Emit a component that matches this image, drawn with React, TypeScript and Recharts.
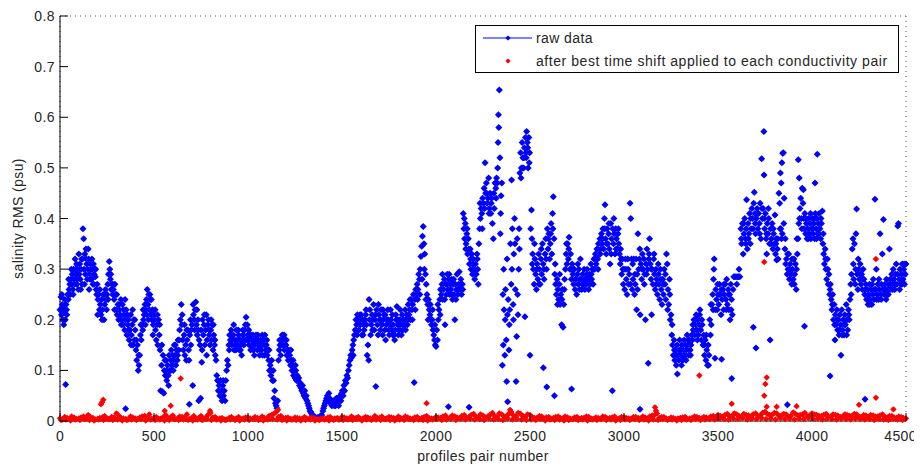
import React from 'react';
import { ScatterChart, Scatter, XAxis, YAxis, CartesianGrid } from 'recharts';

type Pt = [number, number];

const xTicks = [0, 500, 1000, 1500, 2000, 2500, 3000, 3500, 4000, 4500];
const yTicks = [0, 0.1, 0.2, 0.3, 0.4, 0.5, 0.6, 0.7, 0.8];
const seriesNames = ['raw data', 'after best time shift applied to each conductivity pair'];
const xAxisTitle = 'profiles pair number';
const yAxisTitle = 'salinity RMS (psu)';

// raw data, profile pairs 0-500
const raw0: Pt[] = [
  [0,0.22],[5,0.245],[8,0.21],[12,0.23],[15,0.2],[18,0.225],[22,0.215],[25,0.24],[28,0.2],[30,0.072],[32,0.23],[36,0.21],[40,0.25],[44,0.24],[48,0.26],[52,0.27],[55,0.25],[58,0.28],[62,0.27],[65,0.29],[68,0.26],[72,0.3],[75,0.28],[78,0.27],[82,0.3],[85,0.29],[88,0.31],[92,0.28],[95,0.3],[98,0.26],[102,0.29],[105,0.31],[108,0.28],[112,0.3],[115,0.32],[118,0.27],[122,0.38],[126,0.36],[128,0.3],[132,0.33],[135,0.29],[138,0.34],[142,0.31],[145,0.28],[148,0.3],[152,0.32],[155,0.26],[158,0.29],[162,0.31],[165,0.3],[168,0.28],[172,0.3],[175,0.27],[178,0.31],[182,0.29],[185,0.3],[188,0.285],[192,0.26],[195,0.25],[198,0.27],[202,0.24],[206,0.25],[210,0.22],[214,0.23],[218,0.21],[222,0.24],[226,0.22],[230,0.25],[234,0.2],[238,0.23],[242,0.26],[246,0.24],[250,0.25],[254,0.27],[258,0.29],[262,0.315],[265,0.3],[268,0.28],[272,0.26],[276,0.27],[280,0.25],[284,0.26],[288,0.24],[292,0.27],[296,0.25],[300,0.22],[304,0.21],[308,0.23],[312,0.2],[316,0.22],[320,0.21],[324,0.24],[328,0.2],[332,0.23],[336,0.19],[340,0.21],[344,0.18],[348,0.2],[349,0.024],[352,0.22],[356,0.17],[360,0.19],[364,0.2],[368,0.16],[372,0.18],[376,0.21],[380,0.17],[384,0.19],[388,0.15],[392,0.2],[396,0.16],[400,0.18],[404,0.14],[408,0.12],[412,0.15],[416,0.1],[420,0.11],[424,0.13],[428,0.17],[432,0.16],[436,0.19],[440,0.18],[444,0.2],[448,0.21],[452,0.23],[456,0.22],[460,0.24],[464,0.26],[468,0.23],[472,0.25],[476,0.22],[480,0.24],[484,0.21],[488,0.2],[492,0.22],[496,0.19],[500,0.21],
  [10,0.25],[20,0.19],[35,0.22],[46,0.28],[60,0.3],[70,0.25],[80,0.32],[90,0.27],[100,0.33],[110,0.26],[120,0.32],[130,0.27],[140,0.32],[150,0.34],[160,0.28],[170,0.32],[180,0.27],[190,0.3],[200,0.21],[212,0.26],[224,0.2],[236,0.25],[248,0.22],[256,0.24],[270,0.29],[282,0.27],[290,0.22],[302,0.25],[314,0.23],[326,0.19],[338,0.22],[346,0.24],[358,0.21],[366,0.18],[378,0.15],[386,0.22],[398,0.2],[406,0.16],[418,0.13],[430,0.19],[442,0.22],[454,0.19],[462,0.21],[470,0.2],[478,0.25],[486,0.24],[494,0.17]
];

// raw data, 500-1000
const raw500: Pt[] = [
  [504,0.2],[508,0.18],[512,0.16],[516,0.19],[520,0.15],[524,0.2],[528,0.17],[532,0.14],[535,0.06],[540,0.11],[545,0.058],[548,0.13],[552,0.055],[555,0.1],[560,0.09],[564,0.12],[568,0.08],[572,0.11],[576,0.09],[580,0.13],[584,0.1],[588,0.12],[592,0.14],[596,0.11],[600,0.13],[604,0.12],[608,0.15],[612,0.13],[616,0.11],[620,0.14],[624,0.12],[628,0.16],[632,0.14],[636,0.18],[640,0.2],[645,0.23],[648,0.19],[652,0.16],[656,0.14],[660,0.17],[664,0.13],[668,0.15],[672,0.12],[676,0.16],[680,0.18],[684,0.14],[688,0.033],[690,0.17],[694,0.2],[698,0.18],[702,0.19],[706,0.07],[710,0.21],[714,0.2],[718,0.22],[722,0.235],[726,0.19],[730,0.17],[734,0.2],[738,0.04],[740,0.16],[745,0.15],[748,0.045],[750,0.18],[754,0.116],[758,0.2],[762,0.17],[766,0.19],[770,0.15],[774,0.18],[778,0.21],[782,0.16],[786,0.19],[790,0.2],[794,0.17],[798,0.15],[802,0.18],[806,0.16],[810,0.19],[814,0.14],[818,0.17],[822,0.15],[826,0.13],[830,0.12],[834,0.09],[838,0.08],[842,0.06],[846,0.07],[850,0.05],[854,0.08],[858,0.06],[862,0.04],[866,0.07],[870,0.05],[874,0.06],[878,0.04],[882,0.08],[886,0.1],[890,0.12],[894,0.11],[898,0.15],[902,0.17],[906,0.16],[910,0.18],[914,0.15],[918,0.16],[922,0.17],[926,0.14],[930,0.16],[934,0.15],[938,0.18],[942,0.16],[946,0.15],[950,0.17],[954,0.14],[958,0.16],[962,0.15],[966,0.13],[970,0.16],[974,0.17],[978,0.15],[982,0.18],[986,0.19],[990,0.205],[994,0.16],[998,0.17],
  [506,0.22],[518,0.21],[530,0.19],[542,0.15],[558,0.12],[566,0.1],[578,0.07],[590,0.1],[602,0.1],[614,0.15],[626,0.13],[634,0.16],[650,0.21],[662,0.19],[674,0.18],[686,0.12],[696,0.15],[708,0.23],[716,0.18],[728,0.22],[736,0.18],[756,0.14],[768,0.21],[780,0.13],[792,0.18],[804,0.2],[816,0.19],[824,0.16],[840,0.08],[856,0.05],[868,0.08],[900,0.14],[912,0.17],[924,0.19],[936,0.14],[948,0.18],[960,0.14],[972,0.18],[984,0.16],[996,0.19]
];

// raw data, 1000-1500
const raw1000: Pt[] = [
  [1002,0.16],[1006,0.15],[1010,0.17],[1014,0.14],[1018,0.16],[1022,0.15],[1026,0.17],[1030,0.16],[1034,0.13],[1038,0.15],[1042,0.17],[1046,0.16],[1050,0.14],[1054,0.16],[1058,0.15],[1062,0.13],[1066,0.16],[1070,0.14],[1074,0.15],[1078,0.13],[1082,0.16],[1086,0.15],[1090,0.17],[1094,0.14],[1098,0.15],[1102,0.13],[1106,0.14],[1110,0.12],[1114,0.1],[1118,0.11],[1122,0.09],[1126,0.12],[1130,0.08],[1134,0.1],[1138,0.045],[1142,0.06],[1146,0.035],[1150,0.03],[1154,0.025],[1158,0.04],[1162,0.12],[1166,0.14],[1170,0.15],[1174,0.13],[1178,0.16],[1182,0.17],[1186,0.15],[1190,0.165],[1194,0.14],[1198,0.16],[1202,0.15],[1206,0.13],[1210,0.14],[1214,0.12],[1218,0.14],[1222,0.13],[1226,0.11],[1230,0.12],[1234,0.1],[1238,0.11],[1242,0.09],[1246,0.1],[1250,0.085],[1254,0.1],[1258,0.08],[1262,0.09],[1266,0.08],[1270,0.085],[1274,0.07],[1278,0.075],[1282,0.065],[1286,0.06],[1290,0.07],[1294,0.055],[1298,0.05],[1302,0.06],[1306,0.045],[1310,0.05],[1314,0.04],[1318,0.035],[1322,0.03],[1326,0.025],[1330,0.02],[1334,0.018],[1338,0.015],[1342,0.012],[1346,0.01],[1350,0.008],[1356,0.008],[1362,0.005],[1368,0.007],[1374,0.006],[1380,0.008],[1386,0.01],[1392,0.012],[1398,0.02],[1402,0.025],[1406,0.03],[1410,0.035],[1414,0.04],[1418,0.045],[1422,0.05],[1426,0.04],[1430,0.055],[1434,0.045],[1438,0.035],[1442,0.04],[1446,0.03],[1450,0.035],[1454,0.04],[1458,0.03],[1462,0.038],[1466,0.03],[1470,0.045],[1474,0.035],[1478,0.04],[1482,0.03],[1486,0.045],[1490,0.05],[1494,0.04],[1498,0.055],
  [1004,0.18],[1016,0.17],[1028,0.14],[1040,0.16],[1052,0.17],[1064,0.15],[1076,0.17],[1088,0.13],[1100,0.16],[1112,0.14],[1124,0.1],[1136,0.08],[1168,0.16],[1180,0.15],[1192,0.17],[1204,0.16],[1216,0.13],[1228,0.14],[1240,0.12],[1252,0.11]
];

// raw data, 1500-2000
const raw1500: Pt[] = [
  [1502,0.06],[1506,0.05],[1510,0.07],[1514,0.06],[1518,0.08],[1522,0.075],[1526,0.09],[1530,0.085],[1534,0.1],[1538,0.11],[1542,0.12],[1546,0.13],[1550,0.125],[1554,0.14],[1558,0.15],[1562,0.16],[1566,0.17],[1570,0.18],[1574,0.2],[1578,0.19],[1582,0.21],[1586,0.2],[1590,0.18],[1594,0.2],[1598,0.19],[1602,0.21],[1606,0.17],[1610,0.2],[1614,0.19],[1618,0.18],[1622,0.2],[1626,0.21],[1630,0.19],[1634,0.13],[1638,0.15],[1642,0.12],[1644,0.24],[1648,0.22],[1652,0.17],[1656,0.19],[1660,0.21],[1664,0.2],[1668,0.23],[1672,0.18],[1676,0.2],[1680,0.068],[1684,0.22],[1688,0.19],[1692,0.17],[1696,0.21],[1700,0.2],[1704,0.18],[1708,0.22],[1712,0.19],[1716,0.17],[1720,0.2],[1724,0.21],[1728,0.18],[1732,0.16],[1736,0.19],[1740,0.2],[1744,0.22],[1748,0.18],[1752,0.17],[1756,0.19],[1760,0.2],[1764,0.18],[1768,0.21],[1772,0.19],[1776,0.17],[1780,0.16],[1784,0.18],[1788,0.2],[1792,0.226],[1796,0.19],[1800,0.17],[1804,0.18],[1808,0.2],[1812,0.19],[1816,0.17],[1820,0.21],[1824,0.18],[1828,0.2],[1832,0.19],[1836,0.22],[1840,0.2],[1844,0.21],[1848,0.19],[1852,0.23],[1856,0.21],[1860,0.22],[1864,0.2],[1868,0.24],[1872,0.22],[1876,0.23],[1880,0.25],[1884,0.076],[1888,0.24],[1892,0.26],[1896,0.25],[1900,0.27],[1904,0.26],[1908,0.29],[1912,0.28],[1916,0.3],[1920,0.325],[1924,0.345],[1928,0.365],[1932,0.384],[1936,0.35],[1940,0.33],[1944,0.29],[1948,0.27],[1952,0.25],[1956,0.23],[1960,0.24],[1964,0.22],[1968,0.21],[1972,0.2],[1976,0.19],[1980,0.2],[1984,0.18],[1988,0.17],[1992,0.16],[1996,0.15],[2000,0.147],
  [1560,0.13],[1580,0.17],[1596,0.21],[1612,0.17],[1628,0.22],[1646,0.2],[1662,0.18],[1678,0.21],[1694,0.23],[1706,0.2],[1718,0.22],[1730,0.21],[1746,0.2],[1758,0.22],[1770,0.17],[1786,0.21],[1798,0.2],[1810,0.22],[1822,0.19],[1838,0.18],[1850,0.2],[1862,0.24],[1874,0.2],[1890,0.22],[1902,0.24],[1914,0.25],[1926,0.28],[1938,0.3],[1946,0.24],[1958,0.2],[1970,0.23],[1982,0.22],[1994,0.19]
];

// raw data, 2000-2500
const raw2000: Pt[] = [
  [2004,0.18],[2008,0.16],[2012,0.2],[2016,0.22],[2020,0.24],[2024,0.26],[2028,0.25],[2032,0.27],[2036,0.24],[2040,0.26],[2044,0.28],[2048,0.19],[2052,0.27],[2056,0.25],[2060,0.29],[2064,0.26],[2066,0.028],[2068,0.28],[2072,0.25],[2076,0.27],[2080,0.26],[2084,0.28],[2088,0.24],[2092,0.27],[2096,0.25],[2100,0.2],[2104,0.27],[2108,0.26],[2112,0.29],[2116,0.25],[2120,0.27],[2124,0.295],[2128,0.26],[2132,0.28],[2136,0.25],[2140,0.27],[2145,0.41],[2148,0.38],[2152,0.36],[2156,0.39],[2160,0.35],[2164,0.37],[2168,0.33],[2172,0.36],[2176,0.027],[2178,0.31],[2182,0.34],[2186,0.3],[2190,0.33],[2194,0.29],[2198,0.32],[2202,0.3],[2206,0.28],[2210,0.31],[2214,0.29],[2218,0.33],[2222,0.3],[2225,0.27],[2228,0.35],[2232,0.38],[2236,0.4],[2240,0.42],[2244,0.41],[2248,0.44],[2252,0.43],[2256,0.46],[2261,0.51],[2264,0.45],[2268,0.47],[2272,0.43],[2276,0.44],[2280,0.48],[2284,0.42],[2288,0.45],[2292,0.41],[2296,0.44],[2300,0.39],[2305,0.36],[2310,0.42],[2314,0.47],[2318,0.46],[2322,0.48],[2326,0.47],[2330,0.55],[2332,0.605],[2334,0.58],[2337,0.654],[2340,0.52],[2342,0.37],[2346,0.445],[2350,0.47],[2353,0.11],[2356,0.25],[2358,0.15],[2362,0.22],[2366,0.13],[2370,0.26],[2374,0.16],[2376,0.078],[2380,0.21],[2381,0.038],[2384,0.24],[2388,0.14],[2392,0.22],[2396,0.35],[2400,0.27],[2402,0.476],[2406,0.38],[2410,0.23],[2414,0.33],[2418,0.4],[2422,0.26],[2426,0.078],[2429,0.167],[2432,0.36],[2436,0.21],[2440,0.3],[2444,0.34],[2446,0.49],[2450,0.53],[2454,0.5],[2458,0.55],[2462,0.52],[2466,0.5],[2470,0.54],[2473,0.206],[2476,0.56],[2480,0.52],[2482,0.572],[2486,0.55],[2490,0.5],[2494,0.56],[2498,0.53],[2500,0.13],
  [2010,0.23],[2022,0.21],[2034,0.29],[2046,0.24],[2058,0.27],[2070,0.29],[2082,0.25],[2094,0.28],[2106,0.24],[2118,0.26],[2130,0.27],[2142,0.26],[2150,0.4],[2158,0.34],[2166,0.38],[2174,0.34],[2184,0.32],[2196,0.31],[2208,0.3],[2220,0.32],[2234,0.43],[2246,0.38],[2258,0.42],[2270,0.45],[2282,0.41],[2294,0.43],[2308,0.45],[2320,0.44],[2328,0.5],[2344,0.41],[2360,0.3],[2368,0.2],[2378,0.32],[2390,0.19],[2404,0.3],[2412,0.2],[2420,0.35],[2434,0.25],[2442,0.38],[2452,0.48],[2460,0.5],[2468,0.52],[2478,0.53],[2488,0.54],[2496,0.51]
];

// raw data, 2500-3000
const raw2500: Pt[] = [
  [2504,0.38],[2508,0.417],[2510,0.36],[2514,0.33],[2518,0.3],[2522,0.27],[2526,0.32],[2530,0.29],[2534,0.26],[2538,0.31],[2542,0.28],[2546,0.33],[2550,0.3],[2554,0.27],[2558,0.32],[2562,0.29],[2566,0.35],[2570,0.31],[2571,0.105],[2575,0.28],[2580,0.33],[2584,0.36],[2588,0.3],[2589,0.067],[2592,0.38],[2596,0.34],[2600,0.37],[2604,0.32],[2608,0.35],[2612,0.39],[2616,0.33],[2620,0.41],[2624,0.443],[2628,0.36],[2630,0.05],[2632,0.29],[2636,0.27],[2640,0.25],[2644,0.28],[2648,0.26],[2652,0.24],[2656,0.27],[2660,0.23],[2664,0.25],[2668,0.19],[2672,0.26],[2676,0.185],[2680,0.23],[2684,0.28],[2688,0.3],[2692,0.33],[2696,0.31],[2700,0.35],[2704,0.32],[2708,0.363],[2712,0.3],[2716,0.33],[2720,0.28],[2721,0.063],[2724,0.31],[2728,0.29],[2732,0.27],[2736,0.3],[2740,0.26],[2744,0.28],[2748,0.25],[2752,0.29],[2756,0.27],[2760,0.3],[2764,0.26],[2768,0.32],[2772,0.28],[2776,0.26],[2780,0.29],[2784,0.27],[2788,0.3],[2792,0.26],[2796,0.28],[2800,0.27],[2804,0.3],[2808,0.28],[2812,0.26],[2816,0.29],[2820,0.27],[2824,0.31],[2828,0.28],[2832,0.3],[2836,0.27],[2840,0.32],[2844,0.3],[2848,0.33],[2852,0.31],[2856,0.34],[2860,0.32],[2864,0.35],[2868,0.33],[2872,0.36],[2876,0.34],[2880,0.37],[2884,0.35],[2888,0.38],[2892,0.34],[2896,0.4],[2899,0.427],[2902,0.36],[2906,0.33],[2910,0.38],[2914,0.35],[2918,0.37],[2922,0.34],[2926,0.31],[2930,0.39],[2934,0.36],[2938,0.06],[2940,0.38],[2944,0.35],[2948,0.37],[2952,0.33],[2956,0.38],[2960,0.36],[2964,0.34],[2968,0.37],[2972,0.35],[2976,0.33],[2980,0.31],[2984,0.32],[2988,0.29],[2992,0.32],[2996,0.27],[3000,0.3],
  [2512,0.31],[2524,0.35],[2536,0.3],[2548,0.27],[2560,0.34],[2574,0.3],[2586,0.32],[2598,0.36],[2610,0.37],[2622,0.38],[2634,0.31],[2646,0.23],[2658,0.29],[2670,0.24],[2682,0.26],[2694,0.35],[2706,0.34],[2718,0.3],[2730,0.3],[2742,0.28],[2754,0.31],[2766,0.28],[2778,0.27],[2790,0.28],[2802,0.29],[2814,0.28],[2826,0.29],[2838,0.3],[2850,0.32],[2862,0.3],[2874,0.33],[2886,0.36],[2898,0.38],[2908,0.35],[2920,0.39],[2932,0.33],[2946,0.4],[2958,0.34],[2970,0.38],[2982,0.34],[2994,0.3]
];

// raw data, 3000-3500
const raw3000: Pt[] = [
  [3004,0.26],[3008,0.32],[3012,0.28],[3016,0.25],[3020,0.32],[3024,0.27],[3028,0.29],[3032,0.43],[3036,0.4],[3040,0.32],[3044,0.26],[3048,0.28],[3052,0.32],[3056,0.25],[3060,0.27],[3064,0.32],[3067,0.22],[3070,0.29],[3074,0.37],[3078,0.3],[3082,0.32],[3085,0.023],[3086,0.21],[3090,0.31],[3094,0.28],[3098,0.33],[3102,0.3],[3106,0.32],[3110,0.29],[3114,0.2],[3118,0.31],[3122,0.34],[3126,0.3],[3129,0.114],[3132,0.32],[3136,0.36],[3140,0.31],[3144,0.28],[3147,0.21],[3150,0.3],[3154,0.27],[3158,0.32],[3162,0.29],[3166,0.26],[3170,0.3],[3174,0.28],[3178,0.25],[3182,0.31],[3186,0.27],[3190,0.24],[3194,0.3],[3198,0.26],[3202,0.23],[3206,0.28],[3210,0.25],[3214,0.3],[3218,0.27],[3222,0.24],[3226,0.33],[3230,0.31],[3234,0.26],[3238,0.23],[3242,0.28],[3246,0.2],[3250,0.21],[3254,0.17],[3258,0.15],[3262,0.13],[3266,0.16],[3270,0.12],[3274,0.14],[3278,0.11],[3282,0.15],[3284,0.093],[3288,0.13],[3292,0.12],[3296,0.16],[3300,0.14],[3304,0.13],[3308,0.15],[3312,0.12],[3316,0.14],[3320,0.16],[3324,0.13],[3328,0.15],[3332,0.14],[3336,0.17],[3340,0.15],[3344,0.13],[3348,0.16],[3352,0.14],[3356,0.15],[3360,0.17],[3364,0.16],[3368,0.18],[3372,0.2],[3376,0.17],[3380,0.19],[3384,0.21],[3388,0.18],[3392,0.2],[3396,0.17],[3400,0.19],[3404,0.22],[3408,0.18],[3412,0.16],[3416,0.19],[3420,0.15],[3424,0.17],[3428,0.13],[3432,0.16],[3436,0.12],[3440,0.14],[3444,0.11],[3448,0.15],[3452,0.13],[3456,0.2],[3460,0.17],[3464,0.19],[3468,0.23],[3472,0.25],[3476,0.28],[3478,0.3],[3480,0.32],[3484,0.124],[3488,0.26],[3492,0.24],[3496,0.22],[3500,0.25],
  [3010,0.3],[3022,0.3],[3034,0.27],[3046,0.31],[3058,0.29],[3072,0.26],[3084,0.34],[3096,0.3],[3108,0.27],[3120,0.29],[3134,0.33],[3146,0.3],[3160,0.33],[3172,0.27],[3184,0.29],[3196,0.28],[3208,0.27],[3220,0.29],[3232,0.22],[3244,0.25],[3256,0.19],[3268,0.14],[3280,0.13],[3294,0.14],[3306,0.11],[3318,0.13],[3330,0.12],[3342,0.16],[3354,0.13],[3366,0.19],[3378,0.2],[3390,0.16],[3402,0.21],[3414,0.2],[3426,0.15],[3438,0.17],[3450,0.11],[3462,0.23],[3474,0.22],[3486,0.22],[3498,0.27]
];

// raw data, 3500-4000
const raw3500: Pt[] = [
  [3504,0.23],[3508,0.27],[3512,0.25],[3516,0.21],[3519,0.122],[3522,0.24],[3526,0.26],[3530,0.22],[3534,0.25],[3538,0.27],[3542,0.24],[3546,0.28],[3550,0.23],[3554,0.26],[3558,0.22],[3562,0.25],[3564,0.2],[3568,0.27],[3572,0.24],[3573,0.084],[3576,0.21],[3580,0.26],[3584,0.285],[3590,0.285],[3596,0.285],[3604,0.285],[3610,0.285],[3616,0.285],[3622,0.38],[3626,0.35],[3630,0.39],[3634,0.33],[3638,0.37],[3642,0.4],[3646,0.36],[3650,0.38],[3652,0.437],[3656,0.34],[3660,0.39],[3664,0.37],[3668,0.41],[3672,0.35],[3676,0.38],[3680,0.42],[3684,0.4],[3688,0.185],[3690,0.43],[3693,0.452],[3696,0.41],[3700,0.37],[3702,0.144],[3704,0.4],[3708,0.42],[3712,0.38],[3716,0.41],[3720,0.39],[3724,0.43],[3728,0.36],[3732,0.518],[3736,0.4],[3740,0.42],[3744,0.572],[3745,0.486],[3748,0.38],[3752,0.41],[3756,0.36],[3759,0.33],[3762,0.39],[3766,0.37],[3770,0.4],[3774,0.35],[3777,0.16],[3780,0.38],[3784,0.36],[3788,0.39],[3792,0.34],[3796,0.37],[3800,0.35],[3803,0.407],[3806,0.33],[3810,0.36],[3812,0.318],[3816,0.34],[3820,0.32],[3824,0.45],[3828,0.43],[3832,0.49],[3834,0.38],[3836,0.47],[3838,0.36],[3840,0.51],[3844,0.529],[3848,0.53],[3850,0.39],[3852,0.44],[3856,0.34],[3860,0.31],[3864,0.32],[3868,0.29],[3869,0.032],[3872,0.3],[3876,0.33],[3880,0.28],[3884,0.31],[3888,0.29],[3892,0.27],[3896,0.3],[3900,0.28],[3904,0.32],[3908,0.29],[3912,0.31],[3916,0.26],[3918,0.3],[3922,0.33],[3926,0.36],[3927,0.516],[3930,0.39],[3932,0.48],[3936,0.42],[3940,0.44],[3944,0.4],[3948,0.46],[3952,0.43],[3954,0.457],[3958,0.38],[3960,0.187],[3962,0.41],[3966,0.37],[3970,0.39],[3974,0.36],[3978,0.38],[3982,0.4],[3986,0.37],[3990,0.39],[3994,0.36],[3998,0.38],
  [3506,0.25],[3518,0.26],[3532,0.27],[3544,0.22],[3556,0.25],[3570,0.22],[3600,0.27],[3612,0.3],[3624,0.36],[3636,0.39],[3648,0.35],[3662,0.36],[3674,0.4],[3686,0.38],[3698,0.39],[3710,0.41],[3722,0.37],[3734,0.42],[3746,0.4],[3758,0.37],[3768,0.42],[3782,0.35],[3794,0.38],[3808,0.35],[3818,0.36],[3830,0.38],[3842,0.37],[3858,0.36],[3870,0.33],[3882,0.3],[3894,0.32],[3906,0.27],[3920,0.36],[3934,0.4],[3946,0.38],[3956,0.4],[3968,0.4],[3980,0.36],[3992,0.41]
];

// raw data, 4000-4500
const raw4000: Pt[] = [
  [4002,0.4],[4006,0.37],[4010,0.39],[4014,0.36],[4016,0.47],[4018,0.41],[4022,0.38],[4026,0.4],[4028,0.527],[4030,0.37],[4034,0.39],[4038,0.41],[4042,0.38],[4046,0.36],[4050,0.39],[4055,0.415],[4058,0.35],[4062,0.33],[4066,0.31],[4070,0.34],[4074,0.3],[4078,0.28],[4082,0.32],[4086,0.27],[4090,0.29],[4094,0.25],[4096,0.089],[4098,0.27],[4102,0.24],[4106,0.22],[4110,0.25],[4114,0.2],[4118,0.23],[4122,0.16],[4124,0.21],[4128,0.19],[4132,0.22],[4136,0.18],[4140,0.2],[4144,0.17],[4148,0.21],[4152,0.19],[4154,0.13],[4158,0.22],[4162,0.18],[4166,0.2],[4170,0.17],[4174,0.21],[4178,0.19],[4182,0.23],[4186,0.2],[4190,0.18],[4194,0.22],[4198,0.2],[4202,0.24],[4206,0.27],[4210,0.29],[4214,0.34],[4218,0.36],[4222,0.28],[4226,0.35],[4230,0.27],[4234,0.37],[4237,0.419],[4240,0.29],[4244,0.26],[4248,0.3],[4252,0.28],[4256,0.31],[4260,0.27],[4264,0.29],[4268,0.26],[4272,0.3],[4276,0.28],[4280,0.25],[4282,0.043],[4286,0.27],[4290,0.24],[4294,0.26],[4298,0.23],[4302,0.25],[4306,0.27],[4310,0.24],[4314,0.26],[4318,0.23],[4322,0.25],[4326,0.28],[4330,0.24],[4335,0.438],[4338,0.26],[4342,0.3],[4346,0.25],[4350,0.27],[4354,0.24],[4358,0.26],[4362,0.37],[4366,0.25],[4370,0.27],[4374,0.33],[4378,0.26],[4380,0.398],[4384,0.25],[4388,0.27],[4392,0.26],[4396,0.28],[4400,0.25],[4404,0.27],[4408,0.26],[4412,0.34],[4416,0.28],[4420,0.26],[4424,0.29],[4428,0.27],[4432,0.3],[4436,0.28],[4440,0.26],[4444,0.29],[4448,0.31],[4452,0.27],[4456,0.385],[4460,0.39],[4464,0.28],[4468,0.3],[4472,0.27],[4476,0.29],[4480,0.31],[4484,0.28],[4488,0.3],[4492,0.27],[4496,0.29],[4500,0.31],
  [4004,0.38],[4012,0.4],[4024,0.36],[4036,0.37],[4048,0.4],[4060,0.37],[4072,0.32],[4084,0.3],[4096,0.26],[4108,0.23],[4120,0.19],[4134,0.2],[4146,0.18],[4160,0.17],[4172,0.19],[4184,0.17],[4196,0.21],[4208,0.25],[4220,0.31],[4232,0.3],[4246,0.32],[4258,0.29],[4270,0.28],[4284,0.26],[4296,0.24],[4308,0.23],[4320,0.27],[4332,0.26],[4344,0.24],[4356,0.28],[4368,0.24],[4382,0.26],[4394,0.24],[4406,0.25],[4418,0.27],[4430,0.26],[4442,0.27],[4454,0.29],[4466,0.26],[4478,0.27],[4490,0.31]
];

// after time shift: near-zero band
const shiftedLow: Pt[] = [
  [0,0.005],[25,0.008],[50,0.004],[75,0.007],[100,0.005],[125,0.009],[150,0.012],[175,0.006],[200,0.004],[225,0.007],[250,0.005],[275,0.008],[300,0.015],[325,0.006],[350,0.004],[375,0.009],[400,0.005],[425,0.007],[450,0.01],[475,0.013],[500,0.006],[525,0.004],[550,0.008],[575,0.006],[600,0.011],[625,0.005],[650,0.008],[675,0.013],[700,0.006],[725,0.004],[750,0.01],[775,0.007],[800,0.016],[825,0.008],[850,0.005],[875,0.003],[900,0.006],[925,0.004],[950,0.008],[975,0.005],[1000,0.007],[1025,0.004],[1050,0.006],[1075,0.009],[1100,0.005],[1125,0.012],[1150,0.018],[1175,0.01],[1200,0.006],[1225,0.004],[1250,0.007],[1275,0.005],[1300,0.008],[1325,0.004],[1350,0.006],[1375,0.003],[1400,0.005],[1425,0.007],[1450,0.004],[1475,0.006],[1500,0.008],
  [1525,0.005],[1550,0.009],[1575,0.006],[1600,0.004],[1625,0.008],[1650,0.005],[1675,0.01],[1700,0.006],[1725,0.004],[1750,0.008],[1775,0.006],[1800,0.009],[1825,0.005],[1850,0.007],[1875,0.004],[1900,0.008],[1925,0.006],[1950,0.01],[1975,0.005],[2000,0.008],[2025,0.006],[2050,0.011],[2075,0.007],[2100,0.009],[2125,0.006],[2150,0.012],[2175,0.008],[2200,0.014],[2225,0.007],[2250,0.011],[2275,0.009],[2300,0.016],[2325,0.008],[2350,0.013],[2375,0.01],[2400,0.018],[2425,0.009],[2450,0.014],[2475,0.008],[2500,0.012],[2525,0.006],[2550,0.01],[2575,0.005],[2600,0.008],[2625,0.006],[2650,0.009],[2675,0.005],[2700,0.007],[2725,0.004],[2750,0.008],[2775,0.006],[2800,0.009],[2825,0.005],[2850,0.007],[2875,0.004],[2900,0.008],[2925,0.006],[2950,0.009],[2975,0.005],[3000,0.007],
  [3025,0.005],[3050,0.008],[3075,0.006],[3100,0.009],[3125,0.005],[3150,0.011],[3175,0.015],[3200,0.008],[3225,0.005],[3250,0.007],[3275,0.004],[3300,0.006],[3325,0.008],[3350,0.005],[3375,0.009],[3400,0.006],[3425,0.008],[3450,0.005],[3475,0.01],[3500,0.012],[3525,0.008],[3550,0.014],[3575,0.01],[3600,0.013],[3625,0.008],[3650,0.012],[3675,0.009],[3700,0.015],[3725,0.011],[3750,0.018],[3775,0.012],[3800,0.016],[3825,0.01],[3850,0.014],[3875,0.009],[3900,0.017],[3925,0.011],[3950,0.013],[3975,0.009],[4000,0.015],[4025,0.012],[4050,0.01],[4075,0.014],[4100,0.009],[4125,0.012],[4150,0.008],[4175,0.013],[4200,0.01],[4225,0.014],[4250,0.009],[4275,0.012],[4300,0.008],[4325,0.011],[4350,0.009],[4375,0.013],[4400,0.007],[4425,0.01],[4450,0.006],[4475,0.008],[4500,0.005]
];

// after time shift: near-zero band, interleaved pairs
const shiftedLow2: Pt[] = [
  [12,0.003],[37,0.006],[62,0.009],[87,0.004],[112,0.007],[137,0.005],[162,0.008],[187,0.003],[212,0.006],[237,0.01],[262,0.004],[287,0.007],[312,0.011],[337,0.005],[362,0.003],[387,0.007],[412,0.004],[437,0.009],[462,0.006],[487,0.004],[512,0.008],[537,0.005],[562,0.012],[587,0.007],[612,0.004],[637,0.009],[662,0.006],[687,0.004],[712,0.01],[737,0.006],[762,0.003],[787,0.012],[812,0.007],[837,0.004],[862,0.006],[887,0.003],[912,0.008],[937,0.005],[962,0.004],[987,0.007],[1012,0.005],[1037,0.008],[1062,0.004],[1087,0.006],[1112,0.01],[1137,0.014],[1162,0.008],[1187,0.005],[1212,0.007],[1237,0.003],[1262,0.006],[1287,0.004],[1312,0.005],[1337,0.007],[1362,0.003],[1387,0.005],[1412,0.004],[1437,0.008],[1462,0.005],[1487,0.003],
  [1512,0.007],[1537,0.004],[1562,0.006],[1587,0.008],[1612,0.005],[1637,0.007],[1662,0.004],[1687,0.006],[1712,0.009],[1737,0.005],[1762,0.007],[1787,0.004],[1812,0.006],[1837,0.009],[1862,0.005],[1887,0.007],[1912,0.004],[1937,0.008],[1962,0.006],[1987,0.004],[2012,0.007],[2037,0.009],[2062,0.005],[2087,0.011],[2112,0.007],[2137,0.01],[2162,0.006],[2187,0.012],[2212,0.009],[2237,0.013],[2262,0.007],[2287,0.012],[2312,0.01],[2337,0.015],[2362,0.009],[2387,0.014],[2412,0.011],[2437,0.016],[2462,0.01],[2487,0.013],[2512,0.008],[2537,0.006],[2562,0.009],[2587,0.007],[2612,0.004],[2637,0.008],[2662,0.006],[2687,0.009],[2712,0.005],[2737,0.007],[2762,0.004],[2787,0.006],[2812,0.008],[2837,0.004],[2862,0.006],[2887,0.009],[2912,0.005],[2937,0.007],[2962,0.004],[2987,0.008],
  [3012,0.006],[3037,0.004],[3062,0.008],[3087,0.005],[3112,0.007],[3137,0.009],[3162,0.012],[3187,0.006],[3212,0.008],[3237,0.004],[3262,0.006],[3287,0.005],[3312,0.007],[3337,0.004],[3362,0.006],[3387,0.008],[3412,0.005],[3437,0.007],[3462,0.009],[3487,0.006],[3512,0.01],[3537,0.012],[3562,0.009],[3587,0.015],[3612,0.01],[3637,0.014],[3662,0.011],[3687,0.013],[3712,0.01],[3737,0.016],[3762,0.014],[3787,0.012],[3812,0.015],[3837,0.011],[3862,0.013],[3887,0.01],[3912,0.014],[3937,0.012],[3962,0.016],[3987,0.011],[4012,0.013],[4037,0.01],[4062,0.012],[4087,0.009],[4112,0.013],[4137,0.011],[4162,0.009],[4187,0.012],[4212,0.01],[4237,0.013],[4262,0.008],[4287,0.011],[4312,0.012],[4337,0.009],[4362,0.011],[4387,0.008],[4412,0.01],[4437,0.007],[4462,0.009],[4487,0.006]
];

// after time shift: lowest values hugging the axis
const shiftedLow3: Pt[] = [
  [6,0.002],[31,0.003],[56,0.001],[81,0.003],[106,0.002],[131,0.004],[156,0.002],[181,0.001],[206,0.003],[231,0.002],[256,0.004],[281,0.002],[306,0.003],[331,0.001],[356,0.002],[381,0.003],[406,0.002],[431,0.004],[456,0.001],[481,0.003],[506,0.002],[531,0.003],[556,0.001],[581,0.002],[606,0.004],[631,0.002],[656,0.003],[681,0.002],[706,0.001],[731,0.003],[756,0.002],[781,0.004],[806,0.002],[831,0.003],[856,0.001],[881,0.002],[906,0.003],[931,0.002],[956,0.001],[981,0.003],[1006,0.002],[1031,0.004],[1056,0.002],[1081,0.001],[1106,0.003],[1131,0.004],[1156,0.003],[1181,0.002],[1206,0.001],[1231,0.003],[1256,0.002],[1281,0.001],[1306,0.002],[1331,0.003],[1356,0.001],[1381,0.002],[1406,0.003],[1431,0.001],[1456,0.002],[1481,0.003],
  [1506,0.002],[1531,0.003],[1556,0.002],[1581,0.004],[1606,0.001],[1631,0.003],[1656,0.002],[1681,0.003],[1706,0.002],[1731,0.004],[1756,0.002],[1781,0.001],[1806,0.003],[1831,0.002],[1856,0.004],[1881,0.002],[1906,0.003],[1931,0.002],[1956,0.001],[1981,0.003],[2006,0.004],[2031,0.002],[2056,0.003],[2081,0.005],[2106,0.002],[2131,0.004],[2156,0.003],[2181,0.005],[2206,0.003],[2231,0.004],[2256,0.002],[2281,0.005],[2306,0.003],[2331,0.004],[2356,0.002],[2381,0.005],[2406,0.003],[2431,0.004],[2456,0.003],[2481,0.002],[2506,0.003],[2531,0.002],[2556,0.004],[2581,0.001],[2606,0.003],[2631,0.002],[2656,0.003],[2681,0.001],[2706,0.002],[2731,0.004],[2756,0.002],[2781,0.003],[2806,0.001],[2831,0.003],[2856,0.002],[2881,0.004],[2906,0.002],[2931,0.003],[2956,0.001],[2981,0.002],
  [3006,0.003],[3031,0.002],[3056,0.004],[3081,0.002],[3106,0.003],[3131,0.001],[3156,0.003],[3181,0.002],[3206,0.004],[3231,0.002],[3256,0.003],[3281,0.001],[3306,0.002],[3331,0.003],[3356,0.002],[3381,0.004],[3406,0.002],[3431,0.003],[3456,0.004],[3481,0.003],[3506,0.005],[3531,0.004],[3556,0.003],[3581,0.005],[3606,0.004],[3631,0.006],[3656,0.003],[3681,0.005],[3706,0.004],[3731,0.006],[3756,0.004],[3781,0.005],[3806,0.003],[3831,0.006],[3856,0.004],[3881,0.005],[3906,0.003],[3931,0.005],[3956,0.004],[3981,0.006],[4006,0.004],[4031,0.005],[4056,0.003],[4081,0.005],[4106,0.004],[4131,0.003],[4156,0.005],[4181,0.004],[4206,0.003],[4231,0.005],[4256,0.004],[4281,0.003],[4306,0.004],[4331,0.002],[4356,0.004],[4381,0.003],[4406,0.002],[4431,0.004],[4456,0.003],[4481,0.002]
];

// after time shift: isolated larger values
const shiftedHigh: Pt[] = [
  [218,0.033],[224,0.037],[230,0.042],[557,0.02],[589,0.03],[642,0.084],[798,0.02],[1160,0.022],[1950,0.035],[2394,0.022],[2398,0.018],[3165,0.027],[3170,0.02],[3401,0.09],[3573,0.034],[3746,0.314],[3759,0.086],[3752,0.073],[3746,0.05],[3759,0.028],[3812,0.028],[3918,0.029],[4250,0.032],[4340,0.046],[4340,0.32],[4433,0.023]
];

const toObj = (arr: Pt[]) => arr.map(([x, y]) => ({ x, y }));
const rawData = toObj([...raw0, ...raw500, ...raw1000, ...raw1500, ...raw2000, ...raw2500, ...raw3000, ...raw3500, ...raw4000]);
const shiftedData = toObj([...shiftedLow3, ...shiftedLow, ...shiftedLow2, ...shiftedHigh]);

const FONT = '"Liberation Sans", Arial, Helvetica, sans-serif';
const TEXT = '#262626';

const markerPath = (cx: number, cy: number, r: number, s: number) => {
  const k = r - s;
  const p: [number, number][] = [
    [r, 0], [s, k], [s, s], [k, s], [0, r], [-k, s], [-s, s], [-s, k],
    [-r, 0], [-s, -k], [-s, -s], [-k, -s], [0, -r], [k, -s], [s, -s], [s, -k],
  ];
  return 'M' + p.map(([dx, dy]) => `${(cx + dx).toFixed(2)},${(cy + dy).toFixed(2)}`).join('L') + 'Z';
};

const makeShape = (color: string, r: number, s: number) => (props: any) => {
  const { cx, cy } = props;
  if (cx == null || cy == null) return <g />;
  return <path d={markerPath(cx, cy, r, s)} fill={color} stroke="none" />;
};

const blueShape = makeShape('#0000ff', 3.5, 2.0);
const redShape = makeShape('#ff0000', 3.2, 1.8);

const TICK = 8;

const BottomTick = (props: any) => {
  const { x, y, payload, index } = props;
  const last = index === xTicks.length - 1;
  return (
    <g>
      <line x1={x} y1={y} x2={x} y2={y - TICK} stroke="#000" strokeWidth={1} />
      <text
        x={last ? x + 11 : x}
        y={y + 20}
        textAnchor={last ? 'end' : 'middle'}
        fontFamily={FONT}
        fontSize={14}
        letterSpacing={0.4}
        fill={TEXT}
      >
        {payload.value}
      </text>
    </g>
  );
};

const TopTick = (props: any) => {
  const { x, y } = props;
  return <line x1={x} y1={y} x2={x} y2={y + TICK} stroke="#000" strokeWidth={1} />;
};

const LeftTick = (props: any) => {
  const { x, y, payload } = props;
  return (
    <g>
      <line x1={x} y1={y} x2={x + TICK} y2={y} stroke="#000" strokeWidth={1} />
      <text x={x - 5} y={y + 5} textAnchor="end" fontFamily={FONT} fontSize={14} letterSpacing={0.4} fill={TEXT}>
        {payload.value}
      </text>
    </g>
  );
};

const RightTick = (props: any) => {
  const { x, y } = props;
  return <line x1={x} y1={y} x2={x - TICK} y2={y} stroke="#000" strokeWidth={1} />;
};

const XTitle = (props: any) => {
  const vb = props.viewBox || {};
  return (
    <text x={vb.x + vb.width / 2} y={vb.y + 40} textAnchor="middle" fontFamily={FONT} fontSize={14} letterSpacing={0.4} fill={TEXT}>
      {xAxisTitle}
    </text>
  );
};

const YTitle = (props: any) => {
  const vb = props.viewBox || {};
  const cx = vb.x + 15;
  const cy = vb.y + vb.height / 2;
  return (
    <text x={cx} y={cy} transform={`rotate(-90, ${cx}, ${cy})`} textAnchor="middle" fontFamily={FONT} fontSize={14} letterSpacing={0.4} fill={TEXT}>
      {yAxisTitle}
    </text>
  );
};

const LegendBox = () => (
  <div
    style={{
      position: 'absolute',
      left: 467,
      top: 17,
      width: 424,
      height: 48,
      boxSizing: 'border-box',
      border: '1px solid #000',
      background: '#fff',
    }}
  >
    <svg width={422} height={46} style={{ display: 'block' }}>
      <line x1={7} y1={12} x2={56} y2={12} stroke="#0000ff" strokeWidth={1} />
      <path d={markerPath(32, 12, 2.6, 1.5)} fill="#0000ff" />
      <text x={60} y={17} fontFamily={FONT} fontSize={14} letterSpacing={0.4} fill={TEXT}>{seriesNames[0]}</text>
      <path d={markerPath(32, 35, 2.6, 1.5)} fill="#ff0000" />
      <text x={60} y={40} fontFamily={FONT} fontSize={14} letterSpacing={0.55} fill={TEXT}>{seriesNames[1]}</text>
    </svg>
  </div>
);

export default function App() {
  return (
    <div style={{ position: 'relative', width: 914, height: 458, background: '#fff' }}>
      <style>{`.recharts-surface { overflow: visible; }`}</style>
      <ScatterChart width={914} height={458} margin={{ top: 8, right: 16, bottom: 0, left: 0 }}>
        <CartesianGrid stroke="#555" strokeDasharray="1 4" strokeWidth={1} />
        <XAxis
          xAxisId="b"
          type="number"
          dataKey="x"
          domain={[0, 4500]}
          ticks={xTicks}
          interval={0}
          height={45}
          tickSize={0}
          tickMargin={0}
          tickLine={false}
          axisLine={{ stroke: '#000', strokeWidth: 1 }}
          tick={BottomTick}
          label={XTitle}
        />
        <XAxis
          xAxisId="t"
          orientation="top"
          type="number"
          dataKey="x"
          domain={[0, 4500]}
          ticks={xTicks}
          interval={0}
          height={0}
          tickSize={0}
          tickMargin={0}
          tickLine={false}
          axisLine={{ stroke: '#000', strokeWidth: 1 }}
          tick={TopTick}
        />
        <YAxis
          yAxisId="l"
          type="number"
          dataKey="y"
          domain={[0, 0.8]}
          ticks={yTicks}
          interval={0}
          width={52}
          tickSize={0}
          tickMargin={0}
          tickLine={false}
          axisLine={{ stroke: '#000', strokeWidth: 1 }}
          tick={LeftTick}
          label={YTitle}
        />
        <YAxis
          yAxisId="r"
          orientation="right"
          type="number"
          dataKey="y"
          domain={[0, 0.8]}
          ticks={yTicks}
          interval={0}
          width={0}
          tickSize={0}
          tickMargin={0}
          tickLine={false}
          axisLine={{ stroke: '#000', strokeWidth: 1 }}
          tick={RightTick}
        />
        <Scatter
          name={seriesNames[0]}
          data={rawData}
          xAxisId="b"
          yAxisId="l"
          fill="#0000ff"
          shape={blueShape}
          isAnimationActive={false}
        />
        <Scatter
          name={seriesNames[1]}
          data={shiftedData}
          xAxisId="b"
          yAxisId="l"
          fill="#ff0000"
          shape={redShape}
          isAnimationActive={false}
        />
        <Scatter data={[]} xAxisId="t" yAxisId="r" isAnimationActive={false} />
      </ScatterChart>
      <LegendBox />
    </div>
  );
}
